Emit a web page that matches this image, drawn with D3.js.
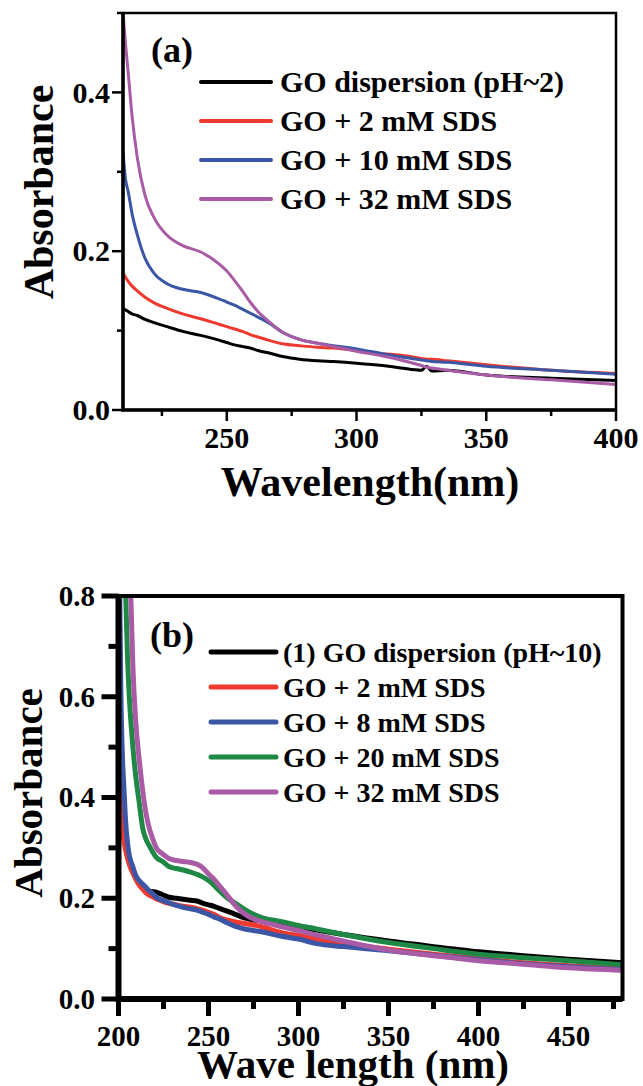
<!DOCTYPE html>
<html>
<head>
<meta charset="utf-8">
<script src="https://cdn.jsdelivr.net/npm/d3@7"></script>
<style>
  body { margin: 0; background: #fff; }
  text { font-family: "Liberation Serif", "Times New Roman", serif; font-weight: bold; fill: #000; }
</style>
</head>
<body>
<script>

// ---- panel (a) data : pH~2 ----
var waveA = [210, 211, 212, 213.5, 215.5, 218.5, 222, 227, 233, 240, 247, 250, 253, 256, 259, 262, 266, 272, 278, 285, 291, 300, 310, 317, 325, 327, 329, 335, 350, 375, 400];
var goA    = [0.128, 0.126, 0.124, 0.121, 0.119, 0.114, 0.110, 0.105, 0.099, 0.094, 0.088, 0.085, 0.082, 0.080, 0.078, 0.075, 0.072, 0.067, 0.064, 0.062, 0.061, 0.059, 0.056, 0.053, 0.050, 0.055, 0.049, 0.050, 0.044, 0.040, 0.037];
var sds2A  = [0.172, 0.167, 0.162, 0.156, 0.150, 0.142, 0.135, 0.128, 0.121, 0.115, 0.108, 0.105, 0.102, 0.099, 0.095, 0.092, 0.088, 0.083, 0.081, 0.079, 0.078, 0.075, 0.071, 0.069, 0.065, 0.064, 0.064, 0.062, 0.057, 0.050, 0.046];
var sds10A = [0.325, 0.290, 0.275, 0.247, 0.221, 0.191, 0.172, 0.159, 0.152, 0.148, 0.140, 0.136, 0.132, 0.127, 0.122, 0.117, 0.110, 0.097, 0.089, 0.084, 0.081, 0.077, 0.071, 0.067, 0.063, 0.062, 0.061, 0.060, 0.055, 0.050, 0.045];
var sds32A = [0.500, 0.460, 0.425, 0.370, 0.318, 0.270, 0.242, 0.220, 0.207, 0.199, 0.184, 0.175, 0.163, 0.150, 0.136, 0.124, 0.112, 0.097, 0.089, 0.084, 0.080, 0.074, 0.068, 0.063, 0.056, 0.054, 0.053, 0.050, 0.044, 0.038, 0.032];
var namesA = ["GO dispersion (pH~2)", "GO + 2 mM SDS", "GO + 10 mM SDS", "GO + 32 mM SDS"];

// ---- panel (b) data : pH~10 ----
var waveB = [200, 200.7, 201.3, 202.2, 203, 204, 205, 206, 207, 208, 209.6, 211.5, 213.4, 215.2, 217, 219, 221, 224.5, 228, 232, 236, 240, 244, 247, 250, 253, 256, 260, 265, 270, 275, 280, 290, 300, 310, 325, 350, 375, 400, 425, 450, 480];
var goB    = [0.75, 0.52, 0.44, 0.36, 0.325, 0.300, 0.283, 0.270, 0.260, 0.252, 0.240, 0.230, 0.222, 0.217, 0.214, 0.213, 0.212, 0.207, 0.202, 0.200, 0.198, 0.196, 0.194, 0.190, 0.187, 0.184, 0.180, 0.175, 0.168, 0.161, 0.157, 0.155, 0.149, 0.143, 0.137, 0.128, 0.115, 0.104, 0.094, 0.086, 0.079, 0.072];
var sds2B  = [0.68, 0.48, 0.42, 0.348, 0.315, 0.295, 0.280, 0.268, 0.258, 0.250, 0.238, 0.226, 0.218, 0.211, 0.206, 0.203, 0.199, 0.194, 0.190, 0.187, 0.184, 0.182, 0.179, 0.176, 0.172, 0.168, 0.162, 0.157, 0.153, 0.150, 0.147, 0.143, 0.132, 0.126, 0.119, 0.110, 0.099, 0.089, 0.080, 0.072, 0.066, 0.060];
var sds8B  = [0.90, 0.80, 0.614, 0.481, 0.420, 0.350, 0.310, 0.285, 0.272, 0.262, 0.245, 0.235, 0.228, 0.222, 0.215, 0.209, 0.202, 0.196, 0.191, 0.186, 0.182, 0.179, 0.176, 0.172, 0.168, 0.163, 0.159, 0.152, 0.144, 0.139, 0.136, 0.133, 0.125, 0.119, 0.110, 0.104, 0.096, 0.087, 0.078, 0.070, 0.064, 0.058];
var sds20B = [null, null, null, null, 0.88, 0.80, 0.68, 0.600, 0.545, 0.500, 0.442, 0.390, 0.340, 0.318, 0.305, 0.292, 0.281, 0.273, 0.263, 0.259, 0.256, 0.252, 0.247, 0.242, 0.235, 0.226, 0.215, 0.202, 0.190, 0.178, 0.168, 0.161, 0.154, 0.146, 0.139, 0.128, 0.112, 0.100, 0.089, 0.082, 0.076, 0.068];
var sds32B = [null, null, null, null, null, null, null, 0.86, 0.78, 0.66, 0.550, 0.475, 0.415, 0.370, 0.340, 0.318, 0.300, 0.288, 0.279, 0.275, 0.273, 0.271, 0.267, 0.260, 0.248, 0.238, 0.225, 0.208, 0.185, 0.169, 0.159, 0.153, 0.144, 0.136, 0.127, 0.115, 0.097, 0.086, 0.076, 0.069, 0.062, 0.057];
var namesB = ["(1) GO dispersion (pH~10)", "GO + 2 mM SDS", "GO + 8 mM SDS", "GO + 20 mM SDS", "GO + 32 mM SDS"];

var black = "#000000", red = "#ee3a2e", blue = "#3c56a6", green = "#1f8845", purple = "#a95ba6";

var svg = d3.select("body").append("svg").attr("width", 643).attr("height", 1086);

function panel(o) {
  var x = d3.scaleLinear().domain(o.xDomain).range([o.left, o.right]);
  var y = d3.scaleLinear().domain(o.yDomain).range([o.bottom, o.top]);
  var g = svg.append("g");

  g.append("clipPath").attr("id", o.id)
    .append("rect").attr("x", o.left).attr("y", o.top)
    .attr("width", o.right - o.left).attr("height", o.bottom - o.top);

  // curves
  var line = d3.line()
    .defined(d => d[1] != null)
    .x(d => x(d[0])).y(d => y(d[1]))
    .curve(d3.curveMonotoneX);

  var curves = g.append("g").attr("clip-path", "url(#" + o.id + ")");
  o.series.forEach((s, i) => {
    curves.append("path")
      .datum(o.wave.map((w, j) => [w, s[j]]))
      .attr("fill", "none")
      .attr("stroke", o.colors[i])
      .attr("stroke-width", o.curveW)
      .attr("stroke-linejoin", "round")
      .attr("d", line);
  });

  // frame: thin top/right, thicker left/bottom axes
  g.append("rect").attr("x", o.left).attr("y", o.top)
    .attr("width", o.right - o.left).attr("height", o.bottom - o.top)
    .attr("fill", "none").attr("stroke", "#000").attr("stroke-width", o.frameW);
  g.append("path")
    .attr("d", "M" + o.left + "," + o.top + "V" + o.bottom + "H" + o.right)
    .attr("fill", "none").attr("stroke", "#000").attr("stroke-width", o.axisW);

  // ticks, drawn from the scales (pointing outwards)
  g.selectAll(".ytick").data(o.yMajor.concat(o.yMinor)).enter().append("line")
    .attr("x1", o.left).attr("x2", d => o.left - (o.yMajor.includes(d) ? o.majorLen : o.minorLen))
    .attr("y1", d => y(d)).attr("y2", d => y(d))
    .attr("stroke", "#000").attr("stroke-width", o.tickW);
  g.selectAll(".xtick").data(o.xMajor.concat(o.xMinor)).enter().append("line")
    .attr("y1", o.bottom).attr("y2", d => o.bottom + (o.xMajor.includes(d) ? o.majorLen : o.minorLen))
    .attr("x1", d => x(d)).attr("x2", d => x(d))
    .attr("stroke", "#000").attr("stroke-width", o.tickW);

  // tick labels
  g.selectAll(".ylab").data(o.yMajor).enter().append("text")
    .attr("x", o.yLabX).attr("y", d => y(d)).attr("dy", "0.34em")
    .attr("text-anchor", "end").style("font-size", o.tickFont + "px")
    .text(d3.format(".1f"));
  g.selectAll(".xlab").data(o.xMajor).enter().append("text")
    .attr("x", d => x(d)).attr("y", o.xLabY)
    .attr("text-anchor", "middle").style("font-size", o.tickFont + "px")
    .text(d3.format("d"));

  // axis titles
  g.append("text").attr("x", o.xTitleX).attr("y", o.xTitleY)
    .attr("text-anchor", "middle").style("font-size", o.titleFont + "px").text(o.xTitle);
  g.append("text")
    .attr("transform", "translate(" + o.yTitleX + "," + o.yTitleY + ") rotate(-90)")
    .attr("text-anchor", "middle").style("font-size", o.titleFont + "px").text("Absorbance");

  // panel tag
  g.append("text").attr("x", o.tagX).attr("y", o.tagY).style("font-size", "36px").text(o.tag);

  // legend
  o.names.forEach((n, i) => {
    var ly = o.legY + i * o.legStep;
    g.append("line").attr("x1", o.legX1).attr("x2", o.legX2).attr("y1", ly).attr("y2", ly)
      .attr("stroke", o.colors[i]).attr("stroke-width", o.legW).attr("stroke-linecap", "round");
    g.append("text").attr("x", o.legTextX).attr("y", ly + 10)
      .style("font-size", o.legFont + "px").text(n);
  });
}

panel({
  id: "clipA", left: 123, right: 616, top: 13, bottom: 410,
  xDomain: [210, 400], yDomain: [0, 0.5],
  wave: waveA, series: [goA, sds2A, sds10A, sds32A], colors: [black, red, blue, purple],
  names: namesA,
  yMajor: [0, 0.2, 0.4], yMinor: [0.1, 0.3, 0.5],
  xMajor: [250, 300, 350, 400], xMinor: [225, 275, 325, 375],
  majorLen: 11, minorLen: 6, tickW: 2.5, frameW: 2.5, axisW: 3.5, curveW: 3,
  tickFont: 30, yLabX: 110, xLabY: 448,
  titleFont: 42, xTitle: "Wavelength(nm)", xTitleX: 370, xTitleY: 496,
  yTitleX: 53, yTitleY: 192,
  tag: "(a)", tagX: 151, tagY: 62,
  legX1: 201, legX2: 271, legY: 82, legStep: 39, legW: 4, legTextX: 280, legFont: 30
});

panel({
  id: "clipB", left: 118.5, right: 622.5, top: 596, bottom: 999,
  xDomain: [200, 480], yDomain: [0, 0.8],
  wave: waveB, series: [goB, sds2B, sds8B, sds20B, sds32B], colors: [black, red, blue, green, purple],
  names: namesB,
  yMajor: [0, 0.2, 0.4, 0.6, 0.8], yMinor: [0.1, 0.3, 0.5, 0.7],
  xMajor: [200, 250, 300, 350, 400, 450], xMinor: [225, 275, 325, 375, 425, 475],
  majorLen: 17, minorLen: 10, tickW: 5, frameW: 4, axisW: 6, curveW: 5,
  tickFont: 29, yLabX: 95, xLabY: 1046,
  titleFont: 41, xTitle: "Wave length (nm)", xTitleX: 353, xTitleY: 1078,
  yTitleX: 42, yTitleY: 793,
  tag: "(b)", tagX: 150, tagY: 647,
  legX1: 211, legX2: 276, legY: 652, legStep: 35, legW: 5, legTextX: 283, legFont: 28
});

</script>
</body>
</html>
